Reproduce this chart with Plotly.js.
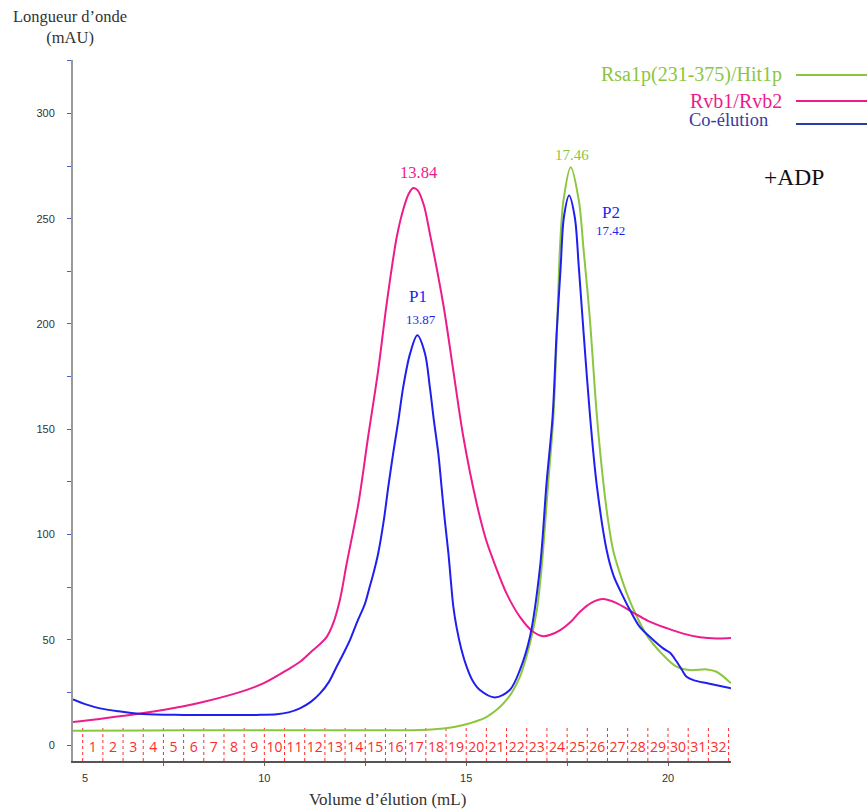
<!DOCTYPE html>
<html>
<head>
<meta charset="utf-8">
<script src="https://cdn.plot.ly/plotly-3.0.1.min.js"></script>
<style>html,body{margin:0;padding:0;background:#fff;}#chart{width:867px;height:812px;}</style>
</head>
<body>
<div id="chart"></div>
<script>
// ---- data (elution volume in mL, absorbance in mAU) ----
const rvbX = [5.26, 6.0, 7.0, 8.0, 8.48, 9.47, 10.0, 10.56, 10.9, 11.2, 11.4, 11.55, 11.7, 11.87, 12.04, 12.33, 12.57, 12.82, 13.03, 13.28, 13.45, 13.58, 13.69, 13.8, 13.95, 14.1, 14.43, 14.68, 14.93, 15.26, 15.5, 15.67, 16.0, 16.33, 16.66, 16.91, 17.1, 17.33, 17.6, 17.82, 18.1, 18.39, 18.7, 19.13, 19.5, 19.97, 20.4, 20.79, 21.2, 21.56];
const rvbY = [10.9, 12.6, 15.2, 18.4, 20.4, 25.6, 29.5, 35.6, 39.8, 45, 48.3, 51.5, 57.5, 68.8, 86.2, 114.7, 146.3, 178, 209.6, 241.3, 255, 262, 264.6, 263.5, 256.5, 243, 209.6, 178, 146.3, 114.7, 97, 87.8, 72, 60.9, 53.8, 51.7, 52.5, 54.6, 58.7, 63.3, 67.5, 69.3, 67.6, 63, 59, 55.5, 52.8, 51.2, 50.6, 50.8];

const coX = [5.26, 5.6, 5.93, 6.4, 7.0, 8.0, 9.07, 9.8, 10.31, 10.6, 10.88, 11.15, 11.38, 11.6, 11.79, 11.96, 12.12, 12.3, 12.49, 12.6, 12.7, 12.82, 12.96, 13.07, 13.19, 13.32, 13.44, 13.61, 13.79, 13.98, 14.1, 14.2, 14.31, 14.39, 14.47, 14.56, 14.62, 14.68, 14.76, 14.88, 15.01, 15.16, 15.34, 15.71, 16.08, 16.33, 16.58, 16.83, 16.99, 17.14, 17.24, 17.34, 17.42, 17.55, 17.69, 17.79, 17.91, 18.07, 18.23, 18.48, 18.65, 18.81, 19.06, 19.3, 19.6, 19.88, 20.05, 20.2, 20.35, 20.46, 20.63, 21.0, 21.56];
const coY = [21.7, 19.2, 17.4, 16.0, 14.7, 14.3, 14.2, 14.3, 14.6, 15.5, 17.4, 20.5, 24.5, 30, 37.2, 43.5, 49.8, 58.5, 67, 74.5, 81.4, 91, 106.8, 122.6, 138.4, 154.2, 170, 185.9, 194.6, 185.9, 170, 154.2, 138.4, 122.6, 106.8, 91, 78, 66, 56.1, 45.5, 37.2, 30.5, 26.1, 22.6, 26.1, 35.6, 51.4, 84.6, 124.2, 155.8, 195.4, 227, 250.7, 261, 250.7, 227, 195.4, 155.8, 124.2, 92.5, 80.5, 73.6, 64, 56.1, 50.5, 45.9, 43.8, 40, 35.5, 32.4, 30.8, 29.2, 26.9];

const rsaX = [5.26, 7.0, 9.0, 11.0, 13.0, 13.86, 14.5, 14.93, 15.51, 16.0, 16.33, 16.58, 16.75, 16.87, 17.03, 17.16, 17.26, 17.32, 17.41, 17.59, 17.79, 17.91, 18.06, 18.24, 18.4, 18.52, 18.64, 18.8, 18.97, 19.13, 19.47, 19.88, 20.21, 20.54, 20.96, 21.2, 21.56];
const rsaY = [6.8, 6.9, 7.0, 7.0, 7.0, 7.1, 8.0, 9.5, 13.4, 21.4, 32.4, 48.3, 64.1, 84.6, 124.2, 155.8, 203.3, 234.9, 258.7, 274.5, 258.7, 234.9, 203.3, 155.8, 124.2, 106, 92.5, 82, 72.5, 65, 52.2, 42.7, 37.2, 35.6, 35.9, 34.8, 29.3];

const fractionEdges = [5.5, 6.0, 6.5, 7.0, 7.5, 8.0, 8.5, 9.0, 9.5, 10.0, 10.5, 11.0, 11.5, 12.0, 12.5, 13.0, 13.5, 14.0, 14.5, 15.0, 15.5, 16.0, 16.5, 17.0, 17.5, 18.0, 18.5, 19.0, 19.5, 20.0, 20.5, 21.0, 21.5];
const fractionLabels = ['1','2','3','4','5','6','7','8','9','10','11','12','13','14','15','16','17','18','19','20','21','22','23','24','25','26','27','28','29','30','31','32'];

const xTickVals = [5.56, 10, 15, 20];
const xTickText = ['5', '10', '15', '20'];

const seriesNames = ['Rsa1p(231-375)/Hit1p', 'Rvb1/Rvb2', 'Co-élution'];

// ---- styling ----
const GREEN = '#8cc63f', PINK = '#ec1c8c', BLUE = '#1f1fef', FRAC = '#ff2a2a';
const SERIF = 'Liberation Serif, Times New Roman, serif';

// fraction separators (dashed) built from edges
const fracLineX = [], fracLineY = [];
fractionEdges.forEach(e => { fracLineX.push(e, e, null); fracLineY.push(-7.6, 9.5, null); });
const fracMidX = fractionLabels.map((_, i) => (fractionEdges[i] + fractionEdges[i + 1]) / 2);
const fracMidY = fractionLabels.map(() => -1.6);

const traces = [
  {x: fracLineX, y: fracLineY, mode: 'lines', line: {color: FRAC, width: 1, dash: 'dot'}, hoverinfo: 'skip', showlegend: false},
  {x: fracMidX, y: fracMidY, mode: 'text', text: fractionLabels, textfont: {family: 'Open Sans, sans-serif', size: 14, color: FRAC}, hoverinfo: 'skip', showlegend: false},
  {x: rsaX, y: rsaY, mode: 'lines', name: seriesNames[0], line: {color: GREEN, width: 2, shape: 'spline', smoothing: 0.9}, showlegend: false},
  {x: rvbX, y: rvbY, mode: 'lines', name: seriesNames[1], line: {color: PINK, width: 2, shape: 'spline', smoothing: 0.9}, showlegend: false},
  {x: coX, y: coY, mode: 'lines', name: seriesNames[2], line: {color: BLUE, width: 2, shape: 'spline', smoothing: 0.9}, showlegend: false}
];

// pixel helpers for paper positions (plot area: x 73..731, y 60..761)
const px = v => (v - 73) / 658;
const py = v => (761 - v) / 701;

const ann = (x, y, text, size, color, family, anchor) => ({
  xref: 'paper', yref: 'paper', x: px(x), y: py(y), text: text, showarrow: false,
  xanchor: anchor || 'center', yanchor: 'middle', font: {family: family || SERIF, size: size, color: color}
});

const layout = {
  width: 867, height: 812,
  margin: {l: 73, r: 136, t: 60, b: 51},
  paper_bgcolor: '#fff', plot_bgcolor: '#fff',
  showlegend: false,
  xaxis: {
    range: [5.26, 21.56], showgrid: false, zeroline: false,
    showline: true, linecolor: '#555', linewidth: 2,
    tickmode: 'array', tickvals: xTickVals, ticktext: xTickText, ticks: '',
    minor: {dtick: 2.5, tick0: 0, ticks: 'outside', ticklen: 3, tickcolor: '#666', showgrid: false},
    tickfont: {family: 'Liberation Sans, Arial, sans-serif', size: 11, color: '#333'},
    ticklabelstandoff: 6
  },
  yaxis: {
    range: [-7.6, 325.4], showgrid: false, zeroline: false,
    showline: true, linecolor: '#999', linewidth: 2,
    tickmode: 'linear', tick0: 0, dtick: 50, ticks: 'outside', ticklen: 4, tickcolor: '#4a5fd0',
    minor: {dtick: 25, tick0: 0, ticks: 'outside', ticklen: 4, tickcolor: '#4a5fd0', showgrid: false},
    tickfont: {family: 'Liberation Sans, Arial, sans-serif', size: 11, color: '#333'},
    ticklabelstandoff: 10
  },
  shapes: [
    {type: 'line', xref: 'paper', yref: 'paper', x0: px(796), x1: px(867), y0: py(75), y1: py(75), line: {color: GREEN, width: 2}},
    {type: 'line', xref: 'paper', yref: 'paper', x0: px(796), x1: px(867), y0: py(101), y1: py(101), line: {color: PINK, width: 2}},
    {type: 'line', xref: 'paper', yref: 'paper', x0: px(796), x1: px(867), y0: py(124), y1: py(124), line: {color: '#2a3aa8', width: 2}}
  ],
  annotations: [
    ann(784, 75, seriesNames[0], 20, GREEN, SERIF, 'right'),
    ann(784, 101, seriesNames[1], 20, PINK, SERIF, 'right'),
    ann(687, 120, seriesNames[2], 18.5, '#3a3a9e', SERIF, 'left'),
    ann(794, 177, '+ADP', 23.5, '#111', SERIF),
    ann(418, 172, '13.84', 16.5, PINK, SERIF),
    ann(572, 155, '17.46', 15, GREEN, SERIF),
    ann(611, 212, 'P2', 17, BLUE, SERIF),
    ann(610, 230, '17.42', 13, BLUE, SERIF),
    ann(418, 296, 'P1', 17, BLUE, SERIF),
    ann(421, 319, '13.87', 13, BLUE, SERIF),
    ann(70, 27, 'Longueur d’onde<br>(mAU)', 16.5, '#333', SERIF),
    ann(387, 799, 'Volume d’élution (mL)', 17, '#333', SERIF)
  ]
};

Plotly.newPlot('chart', traces, layout, {displayModeBar: false, staticPlot: true});
</script>
</body>
</html>
